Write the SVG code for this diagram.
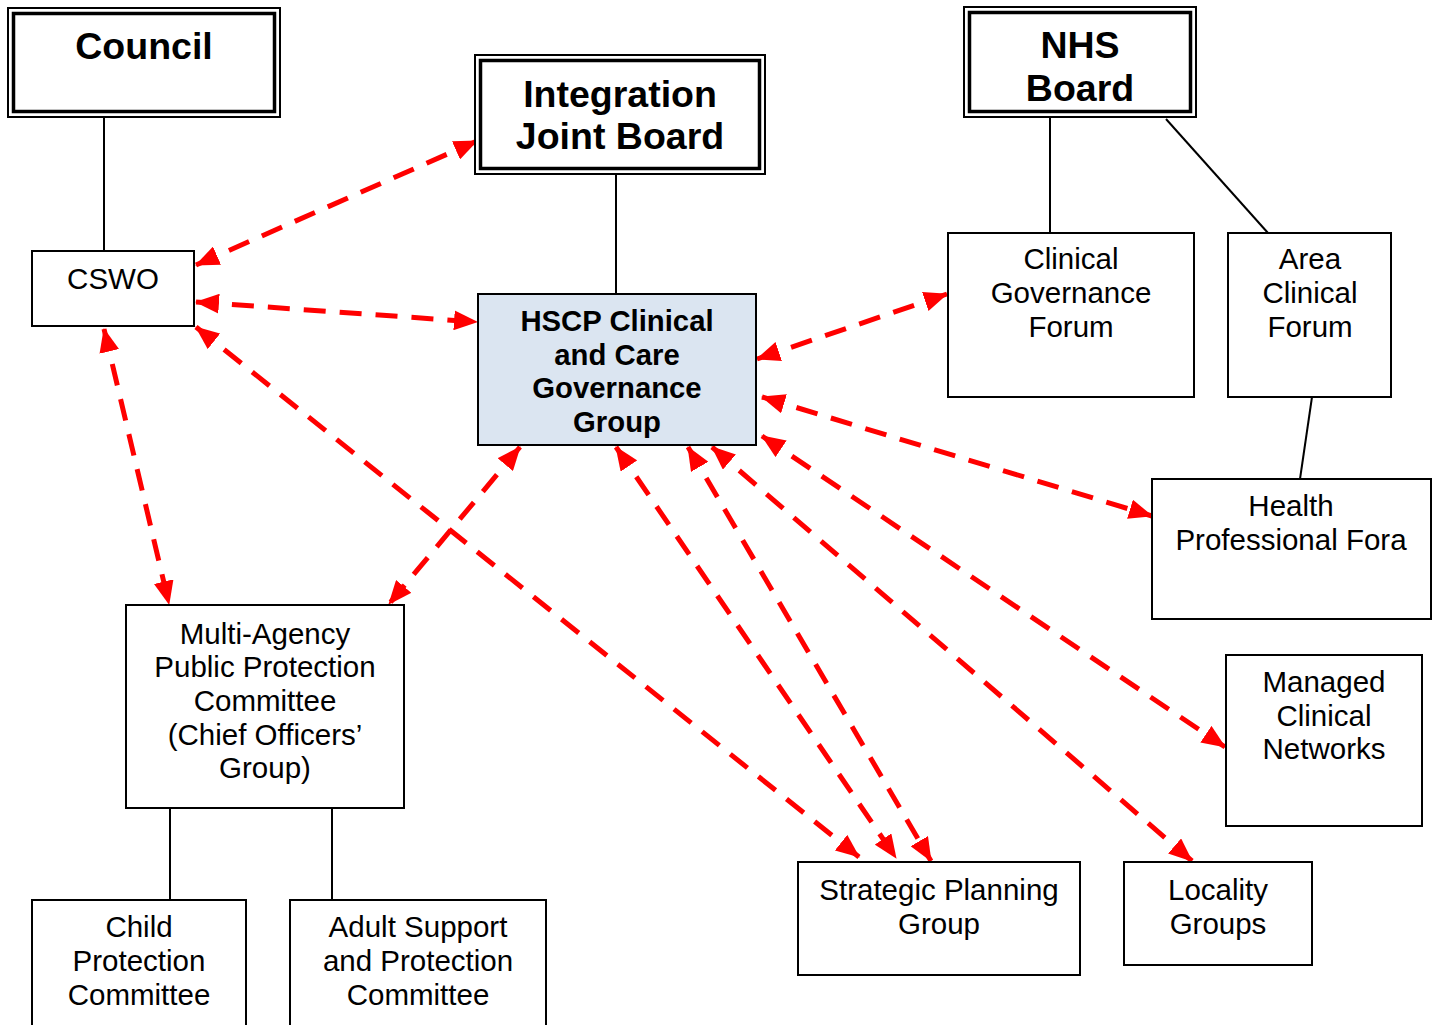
<svg xmlns="http://www.w3.org/2000/svg" width="1437" height="1025" viewBox="0 0 1437 1025">
<style>
.bg{fill:#ffffff}
.box{fill:#ffffff;stroke:#000000;stroke-width:2}
.outer{fill:#ffffff;stroke:#000000;stroke-width:2}
.inner{fill:none;stroke:#000000;stroke-width:3.5}
.hscp{fill:#dbe5f1;stroke:#000000;stroke-width:2}
.title{font-family:"Liberation Sans",Arial,sans-serif;font-weight:bold;font-size:37.5px;text-anchor:middle;fill:#000}
.bold{font-family:"Liberation Sans",Arial,sans-serif;font-weight:bold;font-size:29.3px;text-anchor:middle;fill:#000}
.lbl{font-family:"Liberation Sans",Arial,sans-serif;font-size:29.5px;text-anchor:middle;fill:#000}
.solid{stroke:#000000;stroke-width:2;fill:none}
.dash{stroke:#ff0000;stroke-width:5;fill:none;stroke-dasharray:22 14;marker-start:url(#ah);marker-end:url(#ah)}
</style>
<defs>
<marker id="ah" markerUnits="userSpaceOnUse" markerWidth="24" markerHeight="20" refX="23" refY="10" orient="auto-start-reverse" viewBox="0 0 24 20">
<path d="M0,0 L24,10 L0,20 z" fill="#ff0000"/>
</marker>
</defs>
<rect class="bg" x="0" y="0" width="1437" height="1025"/>

<g id="connectors">
<line class="solid" x1="104" y1="117" x2="104" y2="251"/>
<line class="solid" x1="616" y1="174" x2="616" y2="294"/>
<line class="solid" x1="1050" y1="117" x2="1050" y2="233"/>
<line class="solid" x1="1166" y1="119" x2="1268" y2="233"/>
<line class="solid" x1="1312" y1="397" x2="1300" y2="479"/>
<line class="solid" x1="170" y1="808" x2="170" y2="900"/>
<line class="solid" x1="332" y1="808" x2="332" y2="900"/>

<line class="dash" x1="196" y1="265" x2="477" y2="141"/>
<line class="dash" x1="196" y1="302" x2="477" y2="322"/>
<line class="dash" x1="196" y1="327" x2="859" y2="857"/>
<line class="dash" x1="104" y1="329" x2="169" y2="604"/>
<line class="dash" x1="520" y1="447" x2="389" y2="604"/>
<line class="dash" x1="757" y1="359" x2="947" y2="294"/>
<line class="dash" x1="762" y1="397" x2="1152" y2="516"/>
<line class="dash" x1="762" y1="436" x2="1225" y2="747"/>
<line class="dash" x1="712" y1="447" x2="1192" y2="861"/>
<line class="dash" x1="688" y1="447" x2="931" y2="861"/>
<line class="dash" x1="616" y1="447" x2="896" y2="858"/>
</g>

<g id="council">
<rect class="outer" x="8" y="8" width="272" height="109"/>
<rect class="inner" x="13.5" y="13.5" width="261" height="98"/>
<text class="title" x="144" y="59">Council</text>
</g>

<g id="ijb">
<rect class="outer" x="475" y="55" width="290" height="119"/>
<rect class="inner" x="480.5" y="60.5" width="279" height="108"/>
<text class="title" x="620" y="107">Integration</text>
<text class="title" x="620" y="149">Joint Board</text>
</g>

<g id="nhs">
<rect class="outer" x="964" y="7" width="232" height="110"/>
<rect class="inner" x="969.5" y="12.5" width="221" height="99"/>
<text class="title" x="1080" y="58">NHS</text>
<text class="title" x="1080" y="101">Board</text>
</g>

<g id="cswo">
<rect class="box" x="32" y="251" width="162" height="75"/>
<text class="lbl" x="113" y="289">CSWO</text>
</g>

<g id="hscp">
<rect class="hscp" x="478" y="294" width="278" height="151"/>
<text class="bold" x="617" y="331">HSCP Clinical</text>
<text class="bold" x="617" y="365">and Care</text>
<text class="bold" x="617" y="398">Governance</text>
<text class="bold" x="617" y="432">Group</text>
</g>

<g id="cgf">
<rect class="box" x="948" y="233" width="246" height="164"/>
<text class="lbl" x="1071" y="269">Clinical</text>
<text class="lbl" x="1071" y="303">Governance</text>
<text class="lbl" x="1071" y="337">Forum</text>
</g>

<g id="acf">
<rect class="box" x="1228" y="233" width="163" height="164"/>
<text class="lbl" x="1310" y="269">Area</text>
<text class="lbl" x="1310" y="303">Clinical</text>
<text class="lbl" x="1310" y="337">Forum</text>
</g>

<g id="hpf">
<rect class="box" x="1152" y="479" width="279" height="140"/>
<text class="lbl" x="1291" y="516">Health</text>
<text class="lbl" x="1291" y="550">Professional Fora</text>
</g>

<g id="mcn">
<rect class="box" x="1226" y="655" width="196" height="171"/>
<text class="lbl" x="1324" y="692">Managed</text>
<text class="lbl" x="1324" y="726">Clinical</text>
<text class="lbl" x="1324" y="759">Networks</text>
</g>

<g id="mappc">
<rect class="box" x="126" y="605" width="278" height="203"/>
<text class="lbl" x="265" y="644">Multi-Agency</text>
<text class="lbl" x="265" y="677">Public Protection</text>
<text class="lbl" x="265" y="711">Committee</text>
<text class="lbl" x="265" y="745">(Chief Officers’</text>
<text class="lbl" x="265" y="778">Group)</text>
</g>

<g id="cpc">
<rect class="box" x="32" y="900" width="214" height="126"/>
<text class="lbl" x="139" y="937">Child</text>
<text class="lbl" x="139" y="971">Protection</text>
<text class="lbl" x="139" y="1005">Committee</text>
</g>

<g id="aspc">
<rect class="box" x="290" y="900" width="256" height="126"/>
<text class="lbl" x="418" y="937">Adult Support</text>
<text class="lbl" x="418" y="971">and Protection</text>
<text class="lbl" x="418" y="1005">Committee</text>
</g>

<g id="spg">
<rect class="box" x="798" y="862" width="282" height="113"/>
<text class="lbl" x="939" y="900">Strategic Planning</text>
<text class="lbl" x="939" y="934">Group</text>
</g>

<g id="locality">
<rect class="box" x="1124" y="862" width="188" height="103"/>
<text class="lbl" x="1218" y="900">Locality</text>
<text class="lbl" x="1218" y="934">Groups</text>
</g>
</svg>
